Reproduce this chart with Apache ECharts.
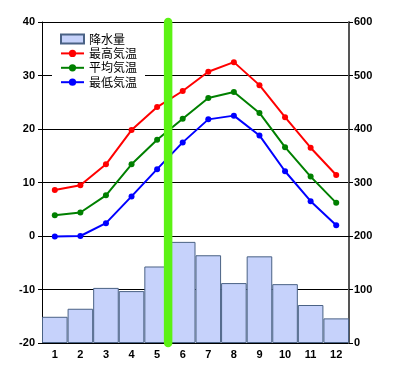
<!DOCTYPE html>
<html>
<head>
<meta charset="utf-8">
<script src="https://cdn.jsdelivr.net/npm/echarts@6/dist/echarts.min.js"></script>
<style>html,body{margin:0;padding:0;background:#fff;}#c{width:400px;height:380px;}</style>
</head>
<body>
<div id="c"></div>
<script>
var months = ['1','2','3','4','5','6','7','8','9','10','11','12'];
var precipitation = [49, 64, 103, 97, 143, 189, 164, 112, 162, 110, 71, 46];
var tempMax = [8.6, 9.5, 13.4, 19.8, 24.1, 27.1, 30.7, 32.5, 28.2, 22.2, 16.5, 11.4];
var tempAvg = [3.9, 4.4, 7.6, 13.4, 18.0, 21.9, 25.8, 26.9, 23.0, 16.6, 11.1, 6.2];
var tempMin = [-0.1, 0.0, 2.4, 7.4, 12.5, 17.5, 21.8, 22.5, 18.8, 12.1, 6.5, 2.0];
var leftTicks = {min: -20, max: 40, interval: 10};
var rightTicks = {min: 0, max: 600, interval: 100};
var names = ['降水量', '最高気温', '平均気温', '最低気温'];
var markerMonth = 5.43; // position of the green vertical bar, in month units

var chart = echarts.init(document.getElementById('c'), null, {renderer: 'canvas'});
var axisFont = {fontFamily: 'Liberation Sans', fontWeight: 'bold', fontSize: 11, color: '#000'};
function lineSeries(name, data, color) {
  return {
    name: name, type: 'line', data: data, yAxisIndex: 0,
    symbol: 'circle', symbolSize: 6,
    lineStyle: {color: color, width: 2},
    itemStyle: {color: color},
    z: 3, animation: false
  };
}
chart.setOption({
  animation: false,
  grid: {left: 42, right: 51, top: 22, bottom: 37},
  legend: {
    orient: 'vertical', left: 52, top: 31,
    padding: [2, 8, 2, 8], itemGap: 2.4,
    itemWidth: 23, itemHeight: 9,
    backgroundColor: '#fff',
    textStyle: {fontFamily: 'Noto Sans CJK JP', fontSize: 12, color: '#000', lineHeight: 12},
    data: [
      {name: names[0], icon: 'rect'},
      {name: names[1]},
      {name: names[2]},
      {name: names[3]}
    ]
  },
  xAxis: {
    type: 'category', data: months, boundaryGap: true,
    axisLine: {lineStyle: {color: '#000', width: 1}},
    axisTick: {alignWithLabel: true, length: 4, lineStyle: {color: '#000'}},
    axisLabel: Object.assign({margin: 6}, axisFont),
    splitLine: {show: false}
  },
  yAxis: [
    {
      type: 'value', min: leftTicks.min, max: leftTicks.max, interval: leftTicks.interval,
      axisLine: {show: true, lineStyle: {color: '#000', width: 1}},
      axisTick: {show: true, length: 4, lineStyle: {color: '#000'}},
      axisLabel: Object.assign({margin: 7}, axisFont),
      splitLine: {show: true, lineStyle: {color: '#000', width: 1}}
    },
    {
      type: 'value', min: rightTicks.min, max: rightTicks.max, interval: rightTicks.interval,
      position: 'right',
      axisLine: {show: true, lineStyle: {color: '#555', width: 2}},
      axisTick: {show: true, length: 4, lineStyle: {color: '#000'}},
      axisLabel: Object.assign({margin: 5}, axisFont),
      splitLine: {show: false}
    }
  ],
  series: [
    {
      name: names[0], type: 'bar', data: precipitation, yAxisIndex: 1,
      barCategoryGap: '0%', barWidth: '100%',
      itemStyle: {color: '#c6d2fb', borderColor: '#4a6285', borderWidth: 1},
      z: 2
    },
    lineSeries(names[1], tempMax, '#ff0000'),
    lineSeries(names[2], tempAvg, '#008000'),
    lineSeries(names[3], tempMin, '#0000ff')
  ]
});

function drawMarker() {
  var p1 = chart.convertToPixel({xAxisIndex: 0}, '1');
  var p2 = chart.convertToPixel({xAxisIndex: 0}, '2');
  var x = p1 + (markerMonth - 1) * (p2 - p1);
  var yTop = chart.convertToPixel({yAxisIndex: 0}, leftTicks.max);
  var yBot = chart.convertToPixel({yAxisIndex: 0}, leftTicks.min);
  chart.setOption({
    graphic: [{
      type: 'line', z: 100,
      shape: {x1: x, y1: yTop, x2: x, y2: yBot},
      style: {stroke: '#5cf214', lineWidth: 8.5, lineCap: 'round'}
    }]
  });
}
drawMarker();
</script>
</body>
</html>
